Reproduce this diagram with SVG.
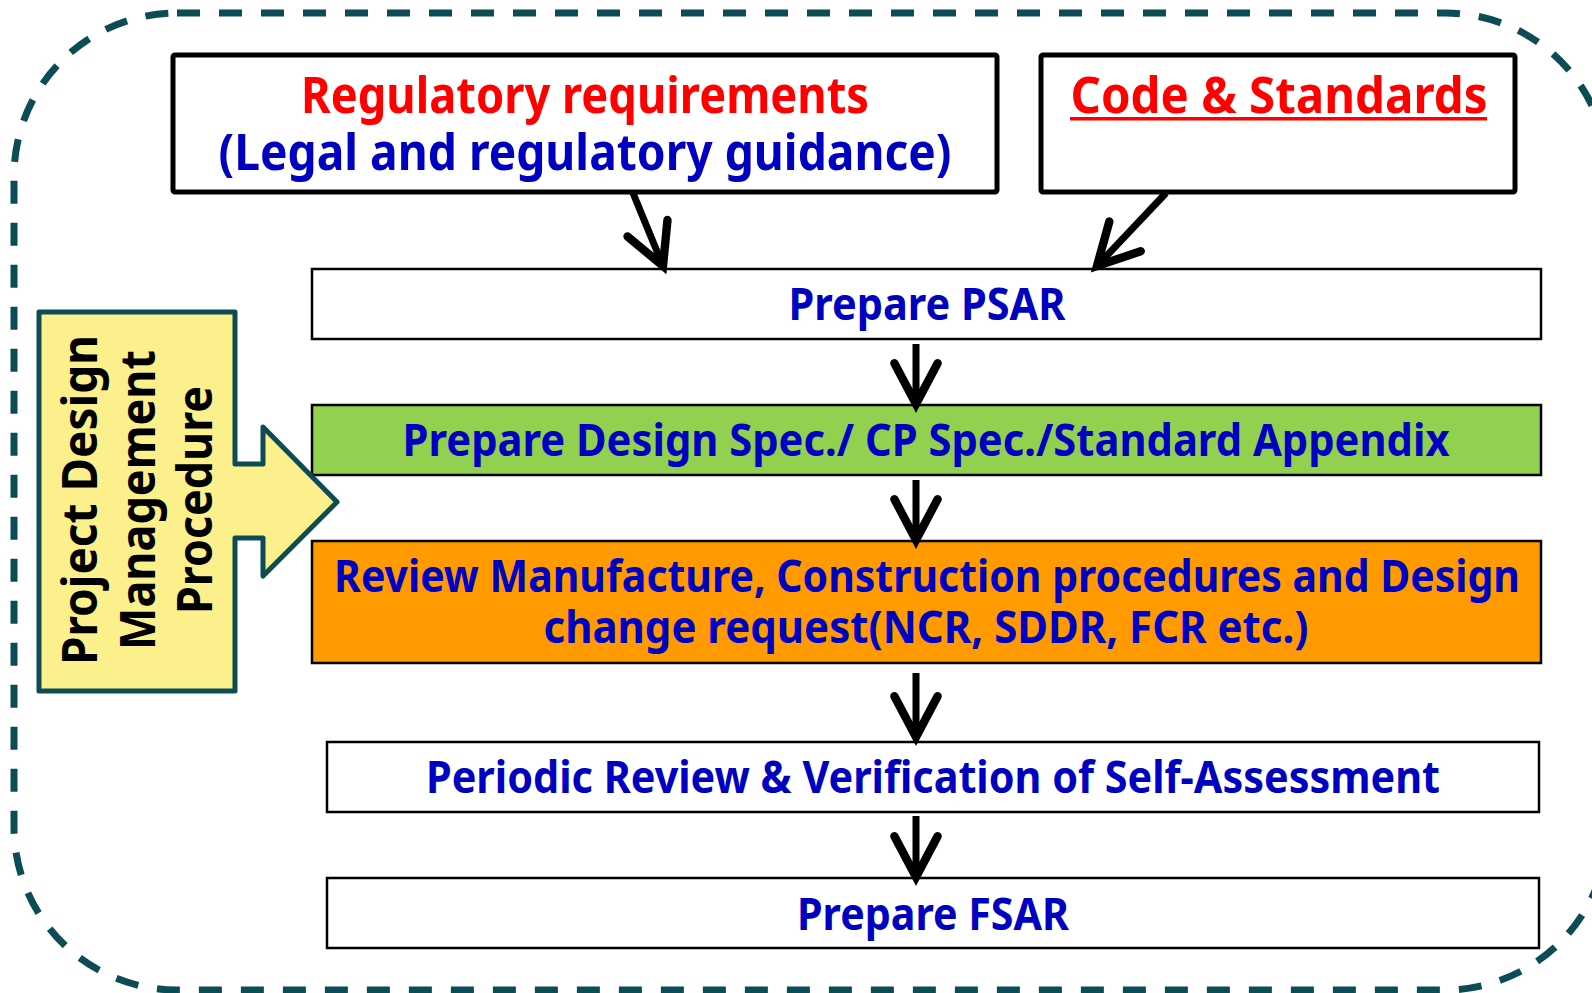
<svg xmlns="http://www.w3.org/2000/svg" width="1592" height="993" viewBox="0 0 1592 993">
<style>
.t{font-family:"Noto Sans","Liberation Sans",sans-serif;font-weight:bold;text-anchor:middle}
.blue{fill:#0000c0}
.red{fill:#ff0000}
.big{font-size:51px}
.mid{font-size:45px}
.topbox{fill:#ffffff;stroke:#000000;stroke-width:5}
.box{stroke:#000000;stroke-width:2.5}
.conn{fill:none;stroke:#000000;stroke-width:7;marker-end:url(#ah)}
</style>
<defs>
<marker id="ah" markerUnits="userSpaceOnUse" orient="auto" refX="0" refY="0" markerWidth="60" markerHeight="60" viewBox="-40 -25 45 50" overflow="visible">
<path d="M-34,-18 L0,0 L-34,18" fill="none" stroke="#000000" stroke-width="7" stroke-linecap="round" stroke-linejoin="miter"/>
</marker>
</defs>
<rect width="1592" height="993" fill="#ffffff"/>
<rect id="boundary" x="14" y="13" width="1594" height="977" rx="163" ry="163" fill="none" stroke="#0d4b55" stroke-width="7" stroke-dasharray="23 19"/>

<g id="regulatory">
<rect class="topbox" x="173" y="55" width="824" height="137" rx="2"/>
<text class="t red big" x="585" y="113" textLength="568" lengthAdjust="spacingAndGlyphs">Regulatory requirements</text>
<text class="t blue big" x="585" y="170" textLength="733" lengthAdjust="spacingAndGlyphs">(Legal and regulatory guidance)</text>
</g>

<g id="codes">
<rect class="topbox" x="1041" y="55" width="474" height="137" rx="2"/>
<text class="t red big" x="1279" y="113" textLength="417" lengthAdjust="spacingAndGlyphs">Code &amp; Standards</text>
<rect x="1070" y="117" width="417" height="3.5" fill="#ff0000"/>
</g>

<g id="psar">
<rect class="box" x="312" y="269" width="1229" height="70" fill="#ffffff"/>
<text class="t blue mid" x="927" y="320" textLength="277" lengthAdjust="spacingAndGlyphs">Prepare PSAR</text>
</g>

<g id="designspec">
<rect class="box" x="312" y="405" width="1229" height="70" fill="#92d050"/>
<text class="t blue mid" x="926" y="456" textLength="1047" lengthAdjust="spacingAndGlyphs">Prepare Design Spec./ CP Spec./Standard Appendix</text>
</g>

<g id="review">
<rect class="box" x="312" y="541" width="1229" height="122" fill="#ff9a00"/>
<text class="t blue mid" x="927" y="592" textLength="1186" lengthAdjust="spacingAndGlyphs">Review Manufacture, Construction procedures and Design</text>
<text class="t blue mid" x="926" y="643" textLength="765" lengthAdjust="spacingAndGlyphs">change request(NCR, SDDR, FCR etc.)</text>
</g>

<g id="periodic">
<rect class="box" x="327" y="742" width="1212" height="70" fill="#ffffff"/>
<text class="t blue mid" x="933" y="793" textLength="1014" lengthAdjust="spacingAndGlyphs">Periodic Review &amp; Verification of Self-Assessment</text>
</g>

<g id="fsar">
<rect class="box" x="327" y="878" width="1212" height="70" fill="#ffffff"/>
<text class="t blue mid" x="933" y="930" textLength="272" lengthAdjust="spacingAndGlyphs">Prepare FSAR</text>
</g>

<g id="procedure">
<path d="M39,312 H235 V464 H263 V427 L337,502 L263,576 V538 H235 V691 H39 Z" fill="#fbf08b" stroke="#0d4b55" stroke-width="5" stroke-linejoin="round"/>
<g transform="translate(0,500) rotate(-90)" class="t" style="font-size:48px;fill:#000000">
<text x="0" y="97" textLength="330" lengthAdjust="spacingAndGlyphs">Project Design</text>
<text x="0" y="155" textLength="300" lengthAdjust="spacingAndGlyphs">Management</text>
<text x="0" y="212" textLength="228" lengthAdjust="spacingAndGlyphs">Procedure</text>
</g>
</g>

<g id="connectors">
<path class="conn" d="M633,193 L663,266"/>
<path class="conn" d="M1166,193 L1097,266"/>
<path class="conn" d="M916,344 L916,404"/>
<path class="conn" d="M916,480 L916,540"/>
<path class="conn" d="M916,673 L916,737"/>
<path class="conn" d="M916,816 L916,877"/>
</g>
</svg>
